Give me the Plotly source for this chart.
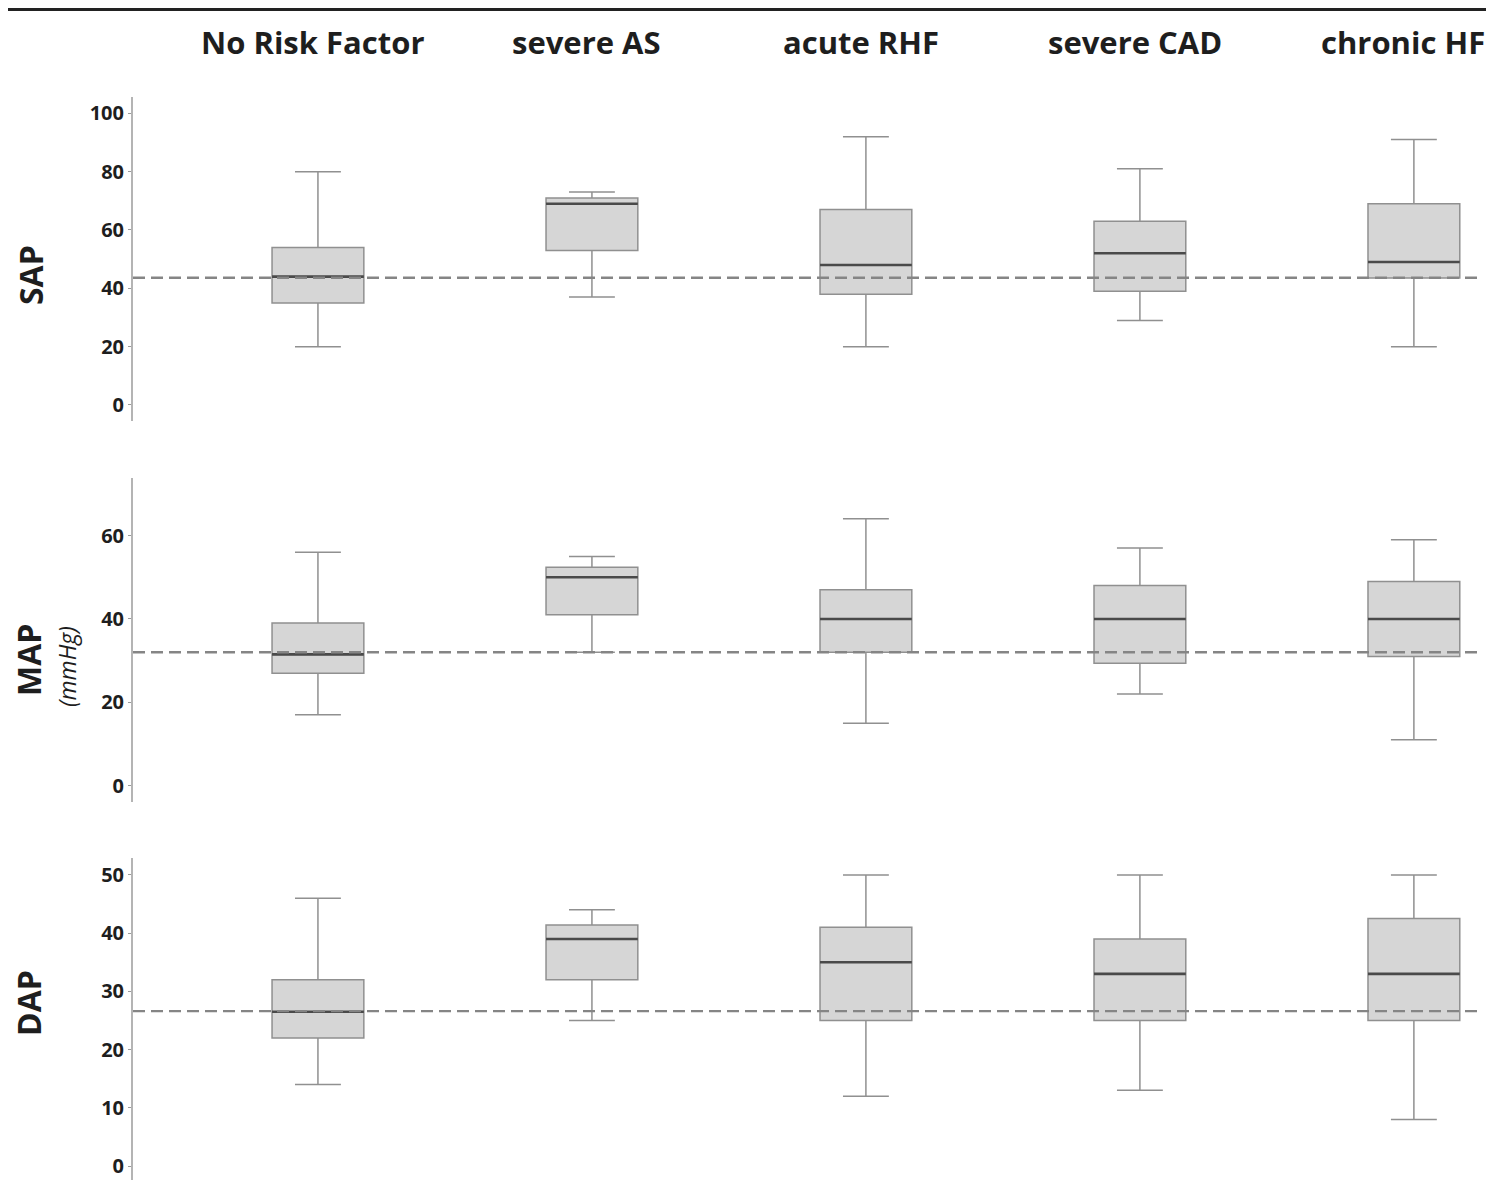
import plotly.graph_objects as go

# ---------------- data ----------------
categories = ["No Risk Factor", "severe AS", "acute RHF", "severe CAD", "chronic HF"]

sap_low = [20, 37, 20, 29, 20]
sap_q1 = [35, 53, 38, 39, 43.5]
sap_med = [44, 69, 48, 52, 49]
sap_q3 = [54, 71, 67, 63, 69]
sap_high = [80, 73, 92, 81, 91]
sap_ref = 43.6

map_low = [17, 32, 15, 22, 11]
map_q1 = [27, 41, 32, 29.4, 31]
map_med = [31.5, 50, 40, 40, 40]
map_q3 = [39, 52.4, 47, 48, 49]
map_high = [56, 55, 64, 57, 59]
map_ref = 32

dap_low = [14, 25, 12, 13, 8]
dap_q1 = [22, 32, 25, 25, 25]
dap_med = [26.5, 39, 35, 33, 33]
dap_q3 = [32, 41.4, 41, 39, 42.5]
dap_high = [46, 44, 50, 50, 50]
dap_ref = 26.6

panel_names = ["SAP", "MAP", "DAP"]
sap_ticks = [0, 20, 40, 60, 80, 100]
map_ticks = [0, 20, 40, 60]
dap_ticks = [0, 10, 20, 30, 40, 50]

# ---------------- layout helpers ----------------
# the page body adds an 8px offset; positions below are in page pixels
OFF = 8
PAGE_W, PAGE_H = 1494, 1180
W, H = PAGE_W - OFF, PAGE_H - OFF
PLOT_L, PLOT_R, PLOT_T, PLOT_B = 133, 1478, 97, 1180   # page coords
ML, MR, MT, MB = PLOT_L - OFF, PAGE_W - PLOT_R, PLOT_T - OFF, PAGE_H - PLOT_B
PW, PH = PLOT_R - PLOT_L, PLOT_B - PLOT_T


def px_x(px):
    return (px - PLOT_L) / PW


def px_y(py):
    return 1 - (py - PLOT_T) / PH


panels = [
    dict(low=sap_low, q1=sap_q1, med=sap_med, q3=sap_q3, high=sap_high, ref=sap_ref,
         ticks=sap_ticks, rng=[-5.5, 105.6], dom=[px_y(421), px_y(97)]),
    dict(low=map_low, q1=map_q1, med=map_med, q3=map_q3, high=map_high, ref=map_ref,
         ticks=map_ticks, rng=[-3.9, 73.8], dom=[px_y(802), px_y(478)]),
    dict(low=dap_low, q1=dap_q1, med=dap_med, q3=dap_q3, high=dap_high, ref=dap_ref,
         ticks=dap_ticks, rng=[-2.4, 52.9], dom=[0, px_y(858)]),
]

BOX_LINE = "#909090"
MED_LINE = "#4a4a4a"
FILL = "#d6d6d6"
TXT = "#1e1e1e"
FONT = "Open Sans"
HEADER_SHIFT = {"chronic HF": -11}

fig = go.Figure()
shapes = []
layout_axes = {}

for i, p in enumerate(panels):
    n = "" if i == 0 else str(i + 1)
    xa, ya = "x" + n, "y" + n
    fig.add_trace(go.Box(
        x=categories, q1=p["q1"], median=p["med"], q3=p["q3"],
        lowerfence=p["low"], upperfence=p["high"],
        boxpoints=False, width=0.335, whiskerwidth=0.5,
        fillcolor=FILL, line=dict(color=BOX_LINE, width=1.5),
        xaxis=xa, yaxis=ya, hoverinfo="skip", showlegend=False,
    ))
    # darker median line overlay
    fig.add_trace(go.Box(
        x=categories, q1=p["med"], median=p["med"], q3=p["med"],
        lowerfence=p["med"], upperfence=p["med"],
        boxpoints=False, width=0.335, whiskerwidth=0,
        fillcolor="rgba(0,0,0,0)", line=dict(color=MED_LINE, width=2.6),
        xaxis=xa, yaxis=ya, hoverinfo="skip", showlegend=False,
    ))
    shapes.append(dict(type="line", xref=xa + " domain", x0=0, x1=1,
                       yref=ya, y0=p["ref"], y1=p["ref"],
                       line=dict(color="#858585", width=2.4, dash="12px,6px"),
                       layer="above"))
    layout_axes["xaxis" + n] = dict(
        domain=[0, 1], anchor=ya, range=[-0.675, 4.234],
        type="category", categoryorder="array", categoryarray=categories,
        showticklabels=False, showline=False, showgrid=False, zeroline=False,
        ticks="",
    )
    layout_axes["yaxis" + n] = dict(
        domain=p["dom"], anchor=xa, range=p["rng"],
        tickmode="array", tickvals=p["ticks"], ticktext=[str(t) for t in p["ticks"]],
        ticks="outside", ticklen=3, tickwidth=1, tickcolor="#9a9a9a",
        showline=True, linecolor="#b4b4b4", linewidth=2,
        showgrid=False, zeroline=False,
        tickfont=dict(family=FONT, size=20, color=TXT, weight="bold"),
    )

# top border line
shapes.append(dict(type="line", xref="paper", yref="paper",
                   x0=px_x(OFF), x1=px_x(PAGE_W), y0=px_y(9.5), y1=px_y(9.5),
                   line=dict(color="#222222", width=3), layer="above"))

annotations = []
for c in categories:
    annotations.append(dict(
        text=c, x=c, xref="x", y=px_y(42), yref="paper",
        xanchor="center", yanchor="middle", showarrow=False,
        xshift=HEADER_SHIFT.get(c, -5),
        font=dict(family=FONT, size=31, color=TXT, weight="bold"),
    ))

title_pos = [(30, 275), (28, 660), (28, 1003)]
for name, (tx, ty) in zip(panel_names, title_pos):
    annotations.append(dict(
        text=name, x=px_x(tx), xref="paper", y=px_y(ty), yref="paper",
        xanchor="center", yanchor="middle", showarrow=False, textangle=-90,
        font=dict(family=FONT, size=32, color=TXT, weight="bold"),
    ))
annotations.append(dict(
    text="<i>(mmHg)</i>", x=px_x(67), xref="paper", y=px_y(667), yref="paper",
    xanchor="center", yanchor="middle", showarrow=False, textangle=-90,
    font=dict(family=FONT, size=23, color=TXT),
))

fig.update_layout(
    width=W, height=H,
    margin=dict(l=ML, r=MR, t=MT, b=MB, pad=0),
    paper_bgcolor="white", plot_bgcolor="white",
    boxmode="overlay", showlegend=False, hovermode=False,
    shapes=shapes, annotations=annotations,
    **layout_axes,
)

fig.write_html("out.html")
